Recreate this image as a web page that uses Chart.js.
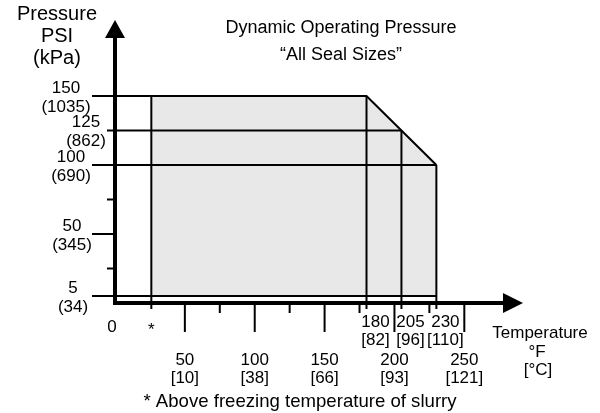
<!DOCTYPE html>
<html>
<head>
<meta charset="utf-8">
<script src="https://cdn.jsdelivr.net/npm/chart.js@4"></script>
<style>
  html, body { margin: 0; padding: 0; background: #fff; }
  #wrap { width: 600px; height: 413px; position: relative; }
</style>
</head>
<body>
<div id="wrap"><canvas id="pressureChart"></canvas></div>
<script>
// operating envelope: temperature (°F) -> max dynamic pressure (PSI)
const envelopeTemps = [26, 180, 205, 230];
const envelopePressures = [150, 150, 125, 100];
const minPressure = 5;

// pressure axis
const pressureTicks = [150, 125, 100, 50, 5];
const pressureTicksKpa = [1035, 862, 690, 345, 34];
const pressureMinorTicks = [25, 75];

// temperature axis
const tempMajorTicks = [50, 100, 150, 200, 250];
const tempMajorTicksC = [10, 38, 66, 93, 121];
const tempMinorTicks = [75, 125, 175, 225];
const tempLimitTicks = [180, 205, 230];
const tempLimitTicksC = [82, 96, 110];

const FONT = '"Liberation Sans", Arial, Helvetica, sans-serif';
const INK = '#000';
const SHADE = '#e8e8e8';

// label x-centres and tick lengths for the pressure labels (styling only)
const yLabelX = [66, 86, 71, 72, 73];
const yTickLen = [23, 8, 23, 23, 23];

const lineStyle = {
    borderColor: INK,
    borderWidth: 2,
    pointRadius: 0,
    fill: false,
    clip: false
};

// the shaded region, its top edge bounded by the envelope
const datasets = [{
    ...lineStyle,
    data: envelopeTemps.map((t, i) => ({ x: t, y: envelopePressures[i] })),
    fill: { value: minPressure },
    backgroundColor: SHADE,
    order: 5
}];

// horizontal pressure lines, from the axis to where the envelope reaches them
const levels = [150, 125, 100, minPressure];
levels.forEach(level => {
    let end = 0;
    envelopeTemps.forEach((t, i) => { if (envelopePressures[i] >= level) end = t; });
    datasets.push({ ...lineStyle, data: [{ x: 0, y: level }, { x: end, y: level }], order: 1 });
});

// vertical temperature lines, from the axis up to the envelope
envelopeTemps.forEach((t, i) => {
    datasets.push({ ...lineStyle, data: [{ x: t, y: 0 }, { x: t, y: envelopePressures[i] }], order: 1 });
});

const axesPlugin = {
    id: 'arrowAxes',
    afterDraw(chart) {
        const { ctx, chartArea, scales: { x, y } } = chart;
        const x0 = x.getPixelForValue(0);
        const y0 = y.getPixelForValue(0);
        ctx.save();
        ctx.strokeStyle = INK;
        ctx.fillStyle = INK;

        // axis lines + arrow heads
        ctx.lineWidth = 4;
        ctx.beginPath();
        ctx.moveTo(x0, y0 + 2);
        ctx.lineTo(x0, chartArea.top + 16);
        ctx.moveTo(x0 - 2, y0);
        ctx.lineTo(chartArea.right - 18, y0);
        ctx.stroke();

        ctx.beginPath();
        ctx.moveTo(x0, chartArea.top);
        ctx.lineTo(x0 - 10, chartArea.top + 18);
        ctx.lineTo(x0 + 10, chartArea.top + 18);
        ctx.closePath();
        ctx.moveTo(chartArea.right, y0);
        ctx.lineTo(chartArea.right - 20, y0 - 10);
        ctx.lineTo(chartArea.right - 20, y0 + 10);
        ctx.closePath();
        ctx.fill();

        // ticks
        ctx.lineWidth = 2;
        ctx.beginPath();
        pressureTicks.forEach((p, i) => {
            const py = y.getPixelForValue(p);
            ctx.moveTo(x0 - yTickLen[i], py);
            ctx.lineTo(x0, py);
        });
        pressureMinorTicks.forEach(p => {
            const py = y.getPixelForValue(p);
            ctx.moveTo(x0 - 8, py);
            ctx.lineTo(x0, py);
        });
        tempMajorTicks.forEach(t => {
            const px = x.getPixelForValue(t);
            ctx.moveTo(px, y0);
            ctx.lineTo(px, y0 + 29);
        });
        tempMinorTicks.forEach(t => {
            const px = x.getPixelForValue(t);
            ctx.moveTo(px, y0);
            ctx.lineTo(px, y0 + 10);
        });
        envelopeTemps.forEach(t => {
            const px = x.getPixelForValue(t);
            ctx.moveTo(px, y0);
            ctx.lineTo(px, y0 + 6);
        });
        ctx.stroke();

        // tick labels
        ctx.textAlign = 'center';
        ctx.textBaseline = 'middle';
        ctx.font = `17px ${FONT}`;
        pressureTicks.forEach((p, i) => {
            const py = y.getPixelForValue(p);
            ctx.fillText(String(p), yLabelX[i], py - 8);
            ctx.fillText(`(${pressureTicksKpa[i]})`, yLabelX[i], py + 11);
        });
        ctx.fillText('0', x0 - 3, y0 + 24);
        ctx.fillText('*', x.getPixelForValue(envelopeTemps[0]), y0 + 27);
        tempMajorTicks.forEach((t, i) => {
            const px = x.getPixelForValue(t);
            ctx.fillText(String(t), px, y0 + 57);
            ctx.fillText(`[${tempMajorTicksC[i]}]`, px, y0 + 75);
        });
        tempLimitTicks.forEach((t, i) => {
            const px = x.getPixelForValue(t) + 9;
            ctx.fillText(String(t), px, y0 + 19);
            ctx.fillText(`[${tempLimitTicksC[i]}]`, px, y0 + 37);
        });

        // axis titles
        ctx.font = `17px ${FONT}`;
        ctx.fillText('Temperature', 540, 333);
        ctx.fillText('°F', 537, 352);
        ctx.fillText('[°C]', 538, 370);

        ctx.font = `20px ${FONT}`;
        ctx.fillText('Pressure', 57, 14);
        ctx.fillText('PSI', 57, 36);
        ctx.fillText('(kPa)', 57, 58);

        // chart title and footnote
        ctx.font = `18px ${FONT}`;
        ctx.fillText('Dynamic Operating Pressure', 341, 28);
        ctx.fillText('\u201CAll Seal Sizes\u201D', 341, 55);
        ctx.font = `18.6px ${FONT}`;
        ctx.fillText('* Above freezing temperature of slurry', 300, 402);

        ctx.restore();
    }
};

new Chart(document.getElementById('pressureChart'), {
    type: 'line',
    data: { datasets },
    options: {
        responsive: true,
        maintainAspectRatio: false,
        animation: false,
        layout: {
            padding: { left: 115, right: 77, top: 20, bottom: 110 }
        },
        plugins: {
            legend: { display: false },
            tooltip: { enabled: false },
            title: { display: false }
        },
        scales: {
            x: { type: 'linear', min: 0, max: 292, display: false },
            y: { type: 'linear', min: 0, max: 205, display: false }
        }
    },
    plugins: [axesPlugin]
});
</script>
</body>
</html>
